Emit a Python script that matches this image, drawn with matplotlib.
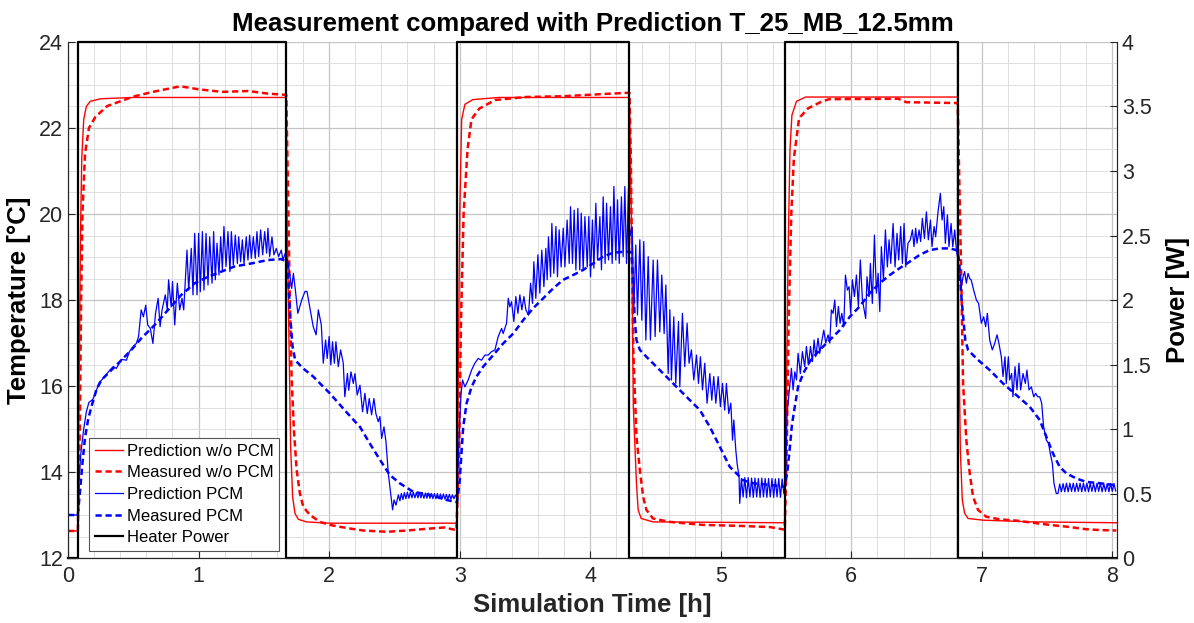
import numpy as np
import matplotlib
matplotlib.use("Agg")
import matplotlib.pyplot as plt
from matplotlib.ticker import MultipleLocator, FormatStrFormatter

plt.rcParams['font.family'] = ['Liberation Sans', 'DejaVu Sans']

# time [h], temperature [degC]
pred_nopcm = [
    (0, 12.63), (0.075, 12.63), (0.085, 16.0), (0.095, 19.5), (0.105, 21.3), (0.12, 22.2),
    (0.14, 22.5), (0.17, 22.62), (0.25, 22.68), (0.5, 22.71), (1.672, 22.71),
    (1.679, 19.63), (1.695, 16.53), (1.705, 14.59), (1.72, 13.43), (1.738, 13.04),
    (1.764, 12.9), (1.827, 12.84), (2.006, 12.81), (2.98, 12.81),
    (2.99, 16.5), (3.0, 20.0), (3.015, 22.2), (3.04, 22.55), (3.1, 22.66), (3.3, 22.71), (4.30, 22.71),
    (4.315, 20.0), (4.33, 15.52), (4.354, 13.74), (4.367, 13.12), (4.39, 12.92), (4.48, 12.84), (5.49, 12.82),
    (5.50, 15.0), (5.515, 19.0), (5.53, 21.5), (5.545, 22.3), (5.58, 22.62), (5.65, 22.72), (6.815, 22.72),
    (6.822, 17.5), (6.835, 14.51), (6.85, 13.35), (6.868, 13.04), (6.894, 12.92), (7.009, 12.88),
    (7.392, 12.84), (8.03, 12.82),
]

meas_nopcm = [
    (0, 12.63), (0.075, 12.63), (0.09, 15.0), (0.10, 18.0), (0.11, 20.0), (0.13, 21.4), (0.16, 22.0),
    (0.21, 22.26), (0.30, 22.51), (0.50, 22.73), (0.65, 22.84), (0.86, 22.97), (1.0, 22.9),
    (1.18, 22.84), (1.38, 22.86), (1.53, 22.8), (1.672, 22.77),
    (1.685, 20.5), (1.70, 17.8), (1.713, 16.14), (1.73, 14.98), (1.751, 14.05), (1.776, 13.5),
    (1.802, 13.19), (1.853, 13.0), (1.93, 12.84), (2.006, 12.77), (2.13, 12.7), (2.26, 12.64),
    (2.44, 12.61), (2.6, 12.64), (2.75, 12.68), (2.88, 12.71), (2.975, 12.65),
    (2.995, 14.5), (3.01, 17.5), (3.03, 20.0), (3.06, 21.5), (3.09, 22.2), (3.15, 22.45), (3.27, 22.65),
    (3.5, 22.72), (3.8, 22.74), (4.1, 22.79), (4.30, 22.82),
    (4.31, 21.5), (4.32, 19.0), (4.33, 16.8), (4.354, 14.82), (4.38, 14.05), (4.405, 13.43),
    (4.43, 13.12), (4.48, 12.92), (4.61, 12.84), (4.865, 12.77), (5.12, 12.75), (5.375, 12.72), (5.49, 12.66),
    (5.505, 14.5), (5.52, 17.5), (5.54, 20.0), (5.56, 21.3), (5.6, 22.23), (5.67, 22.46), (5.77, 22.61),
    (5.83, 22.67), (6.36, 22.68), (6.42, 22.6), (6.815, 22.58),
    (6.843, 18.39), (6.856, 16.06), (6.881, 14.74), (6.907, 13.97), (6.932, 13.43), (6.97, 13.12),
    (7.034, 12.96), (7.136, 12.9), (7.264, 12.87), (7.392, 12.82), (7.52, 12.77), (7.647, 12.73),
    (7.8, 12.67), (7.902, 12.65), (8.03, 12.64),
]

pred_pcm = [
    (0, 13.0), (0.075, 13.0), (0.085, 13.9), (0.10, 14.5), (0.12, 15.0), (0.14, 15.4), (0.16, 15.62),
    (0.19, 15.69), (0.24, 16.08), (0.28, 16.22), (0.32, 16.37), (0.345, 16.45), (0.37, 16.41),
    (0.41, 16.62), (0.447, 16.6), (0.47, 16.8), (0.50, 16.92), (0.523, 16.99), (0.54, 17.15),
    (0.56, 17.77), (0.577, 17.61), (0.595, 17.88), (0.61, 17.42), (0.63, 17.34), (0.65, 16.99),
    (0.67, 17.69), (0.69, 18.04), (0.705, 17.38), (0.72, 17.77), (0.745, 18.12), (0.76, 17.77),
    (0.77, 18.47), (0.79, 17.84), (0.80, 18.43), (0.817, 17.42), (0.837, 18.39), (0.855, 17.77),
    (0.873, 18.04), (0.886, 17.77),
    (0.911, 19.16), (0.924, 18.23), (0.944, 19.2), (0.957, 18.12), (0.970, 19.55), (0.988, 18.12),
    (1.000, 19.55), (1.013, 18.19), (1.029, 19.59), (1.041, 18.23), (1.057, 19.55), (1.072, 18.35),
    (1.085, 19.47), (1.103, 18.39), (1.115, 19.59), (1.128, 18.47), (1.141, 19.32), (1.156, 18.58),
    (1.169, 19.47), (1.182, 18.70), (1.194, 19.71), (1.210, 18.78), (1.225, 19.59), (1.240, 18.66),
    (1.251, 19.59), (1.266, 18.81), (1.281, 19.51), (1.297, 18.85), (1.307, 19.47), (1.322, 18.89),
    (1.335, 19.40), (1.348, 18.85), (1.365, 19.47), (1.378, 18.93), (1.391, 19.51), (1.404, 18.97),
    (1.419, 19.47), (1.434, 18.97), (1.447, 19.59), (1.460, 19.01), (1.475, 19.63), (1.491, 19.05),
    (1.506, 19.59), (1.521, 19.09), (1.531, 19.67), (1.544, 19.01), (1.562, 19.47), (1.577, 19.05),
    (1.595, 19.20), (1.613, 19.01), (1.633, 19.16), (1.646, 18.93), (1.664, 19.09),
    (1.687, 18.85), (1.713, 18.27), (1.726, 18.62), (1.74, 18.27), (1.76, 17.69), (1.79, 18.0),
    (1.815, 18.2), (1.83, 18.2), (1.85, 17.86), (1.878, 17.38), (1.90, 17.19), (1.917, 17.77),
    (1.94, 17.42), (1.955, 16.53), (1.973, 17.07), (1.985, 16.64), (2.0, 17.15), (2.013, 16.49),
    (2.026, 17.03), (2.04, 16.53), (2.052, 17.03), (2.07, 16.45), (2.088, 16.84), (2.108, 16.53),
    (2.12, 15.75), (2.14, 16.29), (2.15, 15.9), (2.167, 16.33), (2.185, 16.06), (2.198, 16.29),
    (2.215, 15.79), (2.236, 16.02), (2.256, 15.40), (2.274, 15.83), (2.292, 15.36), (2.307, 15.71),
    (2.325, 15.33), (2.343, 15.71), (2.358, 15.36), (2.376, 15.17), (2.389, 15.29), (2.402, 14.78),
    (2.42, 15.05), (2.435, 14.71), (2.453, 13.97), (2.486, 13.12), (2.497, 13.35), (2.512, 13.23),
    (2.53, 13.47), (2.542, 13.33), (2.553, 13.5), (2.565, 13.36), (2.576, 13.52), (2.588, 13.38),
    (2.599, 13.53), (2.611, 13.39), (2.622, 13.53), (2.634, 13.40), (2.645, 13.53), (2.657, 13.40),
    (2.668, 13.52), (2.680, 13.40), (2.691, 13.52), (2.703, 13.40), (2.714, 13.52), (2.726, 13.39),
    (2.737, 13.51), (2.749, 13.39), (2.76, 13.51), (2.772, 13.39), (2.783, 13.5), (2.795, 13.38),
    (2.806, 13.5), (2.818, 13.38), (2.829, 13.5), (2.841, 13.38), (2.852, 13.49), (2.864, 13.37),
    (2.875, 13.49), (2.887, 13.37), (2.898, 13.48), (2.91, 13.37), (2.921, 13.48), (2.933, 13.37),
    (2.944, 13.47), (2.956, 13.38), (2.967, 13.46), (2.978, 13.42),
    (2.99, 14.3), (3.0, 15.2), (3.01, 15.8), (3.022, 16.14), (3.04, 15.98), (3.065, 16.14),
    (3.091, 16.37), (3.116, 16.53), (3.142, 16.64), (3.167, 16.6), (3.193, 16.72), (3.218, 16.72),
    (3.244, 16.8), (3.27, 16.84), (3.295, 17.15), (3.321, 17.34), (3.333, 17.22), (3.359, 17.46),
    (3.372, 18.04), (3.384, 17.84), (3.397, 17.96), (3.415, 17.5), (3.43, 18.08), (3.446, 17.69),
    (3.461, 18.12), (3.476, 17.77), (3.492, 18.08), (3.507, 17.77), (3.527, 17.65), (3.543, 18.39),
    (3.558, 17.92), (3.568, 18.89), (3.583, 18.04), (3.599, 19.05), (3.614, 18.16), (3.629, 19.16),
    (3.645, 18.31), (3.66, 19.2), (3.670, 18.47), (3.68, 19.47), (3.696, 18.54), (3.706, 19.78),
    (3.721, 18.62), (3.737, 19.71), (3.749, 18.54), (3.762, 19.63), (3.777, 18.77), (3.793, 19.67),
    (3.806, 18.77), (3.823, 19.86), (3.839, 18.85), (3.849, 20.17), (3.864, 18.85), (3.877, 20.09),
    (3.89, 18.7), (3.905, 20.13), (3.92, 18.7), (3.931, 20.02), (3.946, 18.7), (3.959, 19.94),
    (3.977, 18.77), (3.989, 19.94), (4.002, 18.54), (4.017, 19.86), (4.028, 18.74), (4.043, 20.25),
    (4.056, 18.93), (4.074, 19.94), (4.086, 18.7), (4.099, 20.4), (4.114, 18.85), (4.125, 20.25),
    (4.14, 18.93), (4.155, 20.17), (4.168, 18.85), (4.181, 20.64), (4.196, 18.93), (4.209, 20.33),
    (4.222, 18.85), (4.239, 20.40), (4.252, 19.01), (4.265, 20.64), (4.278, 18.85), (4.293, 20.6),
    (4.303, 19.47),
    (4.321, 19.7), (4.334, 17.77), (4.349, 19.28), (4.362, 17.65), (4.38, 19.4), (4.395, 17.53),
    (4.41, 19.36), (4.426, 17.07), (4.444, 19.01), (4.461, 17.07), (4.482, 18.93), (4.497, 17.15),
    (4.515, 18.93), (4.533, 17.26), (4.548, 18.58), (4.566, 17.22), (4.579, 18.35), (4.597, 16.29),
    (4.61, 17.77), (4.622, 16.14), (4.64, 17.61), (4.655, 16.06), (4.676, 17.5), (4.686, 15.98),
    (4.706, 17.69), (4.724, 16.45), (4.742, 17.46), (4.757, 16.53), (4.775, 16.84), (4.793, 16.14),
    (4.814, 16.72), (4.829, 16.06), (4.844, 16.68), (4.86, 15.91), (4.877, 16.53), (4.895, 15.6),
    (4.916, 16.29), (4.931, 15.67), (4.946, 16.22), (4.962, 15.6), (4.98, 16.22), (4.997, 15.52),
    (5.013, 16.06), (5.03, 15.44), (5.043, 16.06), (5.061, 15.36), (5.077, 15.6), (5.09, 14.74),
    (5.1, 15.21), (5.115, 14.51), (5.125, 14.2), (5.14, 13.89), (5.145, 13.27),
    (5.158, 13.85), (5.171, 13.42), (5.184, 13.87), (5.197, 13.40), (5.21, 13.87), (5.223, 13.42),
    (5.236, 13.86), (5.249, 13.41), (5.262, 13.86), (5.275, 13.42), (5.288, 13.85), (5.301, 13.41),
    (5.314, 13.86), (5.327, 13.42), (5.34, 13.85), (5.353, 13.41), (5.366, 13.85), (5.379, 13.42),
    (5.392, 13.85), (5.405, 13.41), (5.418, 13.84), (5.431, 13.42), (5.444, 13.85), (5.457, 13.41),
    (5.47, 13.84), (5.483, 13.5),
    (5.495, 13.7), (5.508, 15.36), (5.541, 16.41), (5.554, 15.91), (5.567, 16.33), (5.58, 16.14),
    (5.592, 16.76), (5.61, 16.29), (5.625, 16.8), (5.643, 16.45), (5.656, 16.92), (5.671, 16.49),
    (5.687, 16.92), (5.702, 16.57), (5.715, 17.07), (5.727, 16.68), (5.745, 17.11), (5.758, 16.76),
    (5.771, 17.0), (5.789, 17.3), (5.804, 17.0), (5.822, 17.19), (5.835, 17.0), (5.847, 17.77),
    (5.86, 17.69), (5.873, 18.0), (5.886, 17.38), (5.901, 17.85), (5.914, 17.46), (5.927, 17.69),
    (5.942, 17.38), (5.955, 18.58), (5.97, 18.23), (5.983, 18.31), (5.995, 17.69), (6.008, 18.47),
    (6.024, 18.08), (6.039, 18.58), (6.054, 17.85), (6.069, 18.93), (6.085, 18.0), (6.11, 17.57),
    (6.12, 18.54), (6.136, 18.08), (6.146, 18.85), (6.161, 17.92), (6.177, 19.51), (6.192, 18.16),
    (6.205, 18.62), (6.218, 17.73), (6.23, 19.24), (6.246, 18.47), (6.261, 19.63), (6.276, 18.77),
    (6.289, 19.4), (6.302, 18.85), (6.32, 19.78), (6.335, 18.77), (6.35, 19.55), (6.363, 18.93),
    (6.378, 19.71), (6.391, 18.85), (6.404, 19.78), (6.417, 18.77), (6.434, 19.32), (6.452, 19.4),
    (6.468, 19.63), (6.48, 19.24), (6.493, 19.67), (6.503, 19.32), (6.519, 19.63), (6.531, 19.36),
    (6.544, 19.9), (6.56, 19.43), (6.575, 20.05), (6.59, 19.4), (6.606, 19.86), (6.618, 19.24),
    (6.634, 19.71), (6.646, 19.47), (6.664, 20.05), (6.682, 20.48), (6.695, 19.86), (6.708, 20.17),
    (6.72, 19.32), (6.736, 19.98), (6.748, 19.24), (6.764, 19.78), (6.777, 19.24), (6.792, 19.63),
    (6.805, 19.16),
    (6.825, 18.77), (6.843, 18.31), (6.856, 18.54), (6.868, 18.66), (6.881, 18.39), (6.894, 18.62),
    (6.907, 18.5), (6.919, 18.46), (6.937, 18.23), (6.958, 18.0), (6.975, 17.92), (6.996, 17.46),
    (7.014, 17.61), (7.029, 17.38), (7.042, 17.69), (7.06, 17.07), (7.08, 16.84), (7.098, 16.99),
    (7.116, 17.19), (7.131, 16.99), (7.149, 16.68), (7.162, 16.22), (7.177, 16.68), (7.187, 16.06),
    (7.203, 16.68), (7.213, 16.14), (7.228, 16.29), (7.238, 15.75), (7.254, 16.45), (7.269, 15.91),
    (7.284, 16.53), (7.297, 15.91), (7.315, 16.29), (7.333, 16.06), (7.345, 16.37), (7.361, 15.91),
    (7.379, 15.98), (7.397, 15.75), (7.412, 15.83), (7.427, 15.75), (7.443, 15.75), (7.458, 15.6),
    (7.473, 15.05), (7.494, 14.74), (7.511, 14.67), (7.524, 14.43), (7.54, 14.2), (7.552, 13.74),
    (7.57, 13.5), (7.583, 13.5),
    (7.596, 13.72), (7.609, 13.54), (7.622, 13.73), (7.635, 13.54), (7.648, 13.74), (7.661, 13.54),
    (7.674, 13.74), (7.687, 13.55), (7.7, 13.74), (7.713, 13.54), (7.726, 13.74), (7.739, 13.55),
    (7.752, 13.74), (7.765, 13.54), (7.778, 13.74), (7.791, 13.55), (7.804, 13.74), (7.817, 13.54),
    (7.83, 13.74), (7.843, 13.55), (7.856, 13.74), (7.869, 13.54), (7.882, 13.74), (7.895, 13.55),
    (7.908, 13.74), (7.921, 13.54), (7.934, 13.73), (7.947, 13.55), (7.96, 13.73), (7.973, 13.54),
    (7.986, 13.73), (7.999, 13.55), (8.012, 13.73), (8.025, 13.56),
]

meas_pcm = [
    (0, 13.0), (0.075, 13.0), (0.09, 13.5), (0.11, 14.2), (0.13, 14.8), (0.153, 15.21), (0.179, 15.52),
    (0.217, 15.91), (0.255, 16.14), (0.332, 16.37), (0.408, 16.6), (0.485, 16.84), (0.561, 17.11),
    (0.664, 17.42), (0.766, 17.77), (0.868, 18.12), (0.97, 18.39), (1.072, 18.54), (1.174, 18.66),
    (1.276, 18.78), (1.404, 18.85), (1.531, 18.93), (1.633, 18.95), (1.672, 18.9),
    (1.68, 18.85), (1.70, 17.69), (1.72, 16.91), (1.74, 16.6), (1.80, 16.41), (1.878, 16.22),
    (2.005, 15.83), (2.13, 15.4), (2.236, 15.05), (2.31, 14.67), (2.39, 14.28), (2.465, 13.93),
    (2.54, 13.74), (2.644, 13.54), (2.77, 13.47), (2.9, 13.35), (2.96, 13.31), (2.98, 13.3),
    (3.0, 13.8), (3.015, 14.5), (3.027, 15.05), (3.053, 15.6), (3.091, 15.98), (3.129, 16.22),
    (3.18, 16.45), (3.257, 16.72), (3.333, 16.99), (3.41, 17.22), (3.486, 17.53), (3.563, 17.81),
    (3.64, 18.04), (3.716, 18.27), (3.793, 18.47), (3.869, 18.58), (3.946, 18.7), (4.022, 18.85),
    (4.099, 19.01), (4.176, 19.1), (4.252, 19.12), (4.303, 19.12),
    (4.316, 19.1), (4.33, 18.39), (4.34, 17.61), (4.354, 17.07), (4.38, 16.84), (4.43, 16.68),
    (4.533, 16.37), (4.635, 16.06), (4.737, 15.75), (4.84, 15.44), (4.916, 15.05), (4.992, 14.59),
    (5.069, 14.12), (5.12, 13.97), (5.17, 13.81), (5.248, 13.74), (5.375, 13.7), (5.477, 13.66),
    (5.49, 13.66),
    (5.51, 14.0), (5.53, 14.6), (5.545, 15.1), (5.567, 15.52), (5.592, 15.98), (5.631, 16.29),
    (5.682, 16.57), (5.758, 16.84), (5.835, 17.07), (5.911, 17.3), (5.988, 17.61), (6.064, 17.85),
    (6.141, 18.16), (6.218, 18.39), (6.294, 18.58), (6.37, 18.74), (6.447, 18.89), (6.524, 19.05),
    (6.6, 19.16), (6.677, 19.2), (6.754, 19.2), (6.805, 19.16), (6.815, 19.1),
    (6.825, 18.93), (6.843, 18.08), (6.861, 17.46), (6.873, 17.07), (6.894, 16.84), (6.958, 16.64),
    (7.06, 16.37), (7.162, 16.06), (7.264, 15.79), (7.366, 15.52), (7.443, 15.21), (7.494, 14.82),
    (7.545, 14.43), (7.596, 14.12), (7.647, 13.97), (7.723, 13.85), (7.8, 13.77), (7.902, 13.74),
    (8.004, 13.7), (8.03, 13.7),
]

# heater switching times [h] and power [W] (step after each time)
heater_t = [0, 0.075, 1.672, 2.98, 4.30, 5.49, 6.815, 8.03]
heater_p = [0, 4, 0, 4, 0, 4, 0, 0]

dark = '#262626'

fig = plt.figure(figsize=(11.94, 6.23), dpi=100)
ax1 = fig.add_axes([0.057, 0.1043, 0.8785, 0.8283])
ax2 = ax1.twinx()

t, T = np.array(pred_nopcm).T
l1, = ax1.plot(t, T, color='red', lw=1.0, label='Prediction w/o PCM')
t, T = np.array(meas_nopcm).T
l2, = ax1.plot(t, T, color='red', lw=1.8, ls=(0, (2.5, 1.5)), label='Measured w/o PCM')
t, T = np.array(pred_pcm).T
l3, = ax1.plot(t, T, color='blue', lw=0.9, label='Prediction PCM')
t, T = np.array(meas_pcm).T
l4, = ax1.plot(t, T, color='blue', lw=1.8, ls=(0, (2.5, 1.5)), label='Measured PCM')
l5, = ax2.plot(heater_t, heater_p, color='black', lw=1.6, drawstyle='steps-post',
               clip_on=False, label='Heater Power')

ax1.set_xlim(0, 8.035)
ax1.set_ylim(12, 24)
ax2.set_ylim(0, 4)

ax1.xaxis.set_major_locator(MultipleLocator(1))
ax1.xaxis.set_minor_locator(MultipleLocator(0.2))
ax1.yaxis.set_major_locator(MultipleLocator(2))
ax1.yaxis.set_minor_locator(MultipleLocator(0.5))
ax2.yaxis.set_major_locator(MultipleLocator(0.5))
ax2.yaxis.set_major_formatter(FormatStrFormatter('%g'))

ax1.grid(which='major', color='#c4c4c4', lw=0.9)
ax1.grid(which='minor', color='#dedede', lw=0.7)
ax1.set_axisbelow(True)

for ax in (ax1, ax2):
    ax.spines['top'].set_visible(False)
    for s in ('left', 'right', 'bottom'):
        ax.spines[s].set_color(dark)
        ax.spines[s].set_linewidth(0.8)
    ax.tick_params(which='major', direction='in', length=5, width=0.8, colors=dark,
                   labelsize=15.5, top=False)
    ax.tick_params(which='minor', length=0)
ax1.tick_params(axis='y', right=False)
ax1.tick_params(axis='x', pad=6)

ax1.set_xlabel('Simulation Time [h]', fontsize=18.5, fontweight='bold', color=dark, labelpad=4)
ax1.set_ylabel('Temperature [°C]', fontsize=18.5, fontweight='bold', color='black', labelpad=6)
ax2.set_ylabel('Power [W]', fontsize=18.5, fontweight='bold', color='black', labelpad=10)
ax1.set_title('Measurement compared with Prediction T_25_MB_12.5mm', fontsize=18.6,
              fontweight='bold', pad=8)

leg = ax2.legend(handles=[l1, l2, l3, l4, l5], loc='lower left',
                 bbox_to_anchor=(0.02, 0.0136), borderaxespad=0, fontsize=12,
                 fancybox=False, framealpha=1, edgecolor='#555555',
                 handlelength=1.7, handletextpad=0.2, labelspacing=0.4,
                 borderpad=0.35)
leg.get_frame().set_linewidth(0.8)

fig.savefig('out.png', dpi=100)
